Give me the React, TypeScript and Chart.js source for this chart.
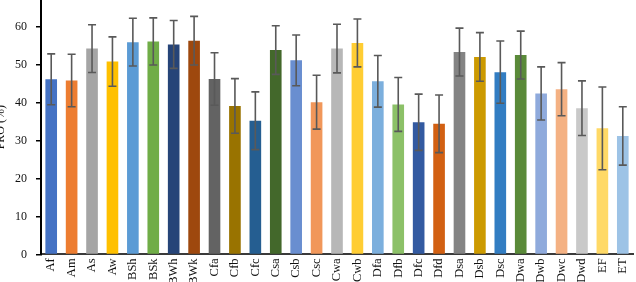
import React, { useEffect, useRef } from "react";
import { Chart, registerables } from "chart.js";

Chart.register(...registerables);

// Köppen climate classes
const classes = [
  "Af", "Am", "As", "Aw", "BSh", "BSk", "BWh", "BWk", "Cfa", "Cfb",
  "Cfc", "Csa", "Csb", "Csc", "Cwa", "Cwb", "Dfa", "Dfb", "Dfc", "Dfd",
  "Dsa", "Dsb", "Dsc", "Dwa", "Dwb", "Dwc", "Dwd", "EF", "ET",
];

// Mean PRO (%) per class
const proMean = [
  46.1, 45.8, 54.2, 50.8, 55.9, 56.1, 55.3, 56.3, 46.2, 39.1,
  35.2, 53.8, 51.1, 40.1, 54.2, 55.7, 45.6, 39.5, 34.8, 34.4,
  53.3, 52.0, 48.0, 52.5, 42.4, 43.5, 38.5, 33.2, 31.2,
];

// Standard deviation (error bar half-length)
const proStd = [
  6.7, 6.9, 6.3, 6.5, 6.3, 6.2, 6.3, 6.4, 6.9, 7.2,
  7.6, 6.4, 6.7, 7.1, 6.4, 6.3, 6.8, 7.1, 7.4, 7.6,
  6.3, 6.4, 8.2, 6.3, 7.0, 7.0, 7.2, 10.9, 7.7,
];

const barColors = [
  "#4472C4", "#ED7D31", "#A5A5A5", "#FFC000", "#5B9BD5", "#70AD47", "#264478", "#9E480E", "#636363", "#997300",
  "#255E91", "#43682B", "#698ED0", "#F1975A", "#B7B7B7", "#FFCD33", "#7CAFDD", "#8CC168", "#335AA1", "#D26012",
  "#848484", "#CC9A00", "#327DC2", "#5A8A39", "#8FAADC", "#F4B183", "#C9C9C9", "#FFD966", "#9DC3E6",
];

const yTicks = [0, 10, 20, 30, 40, 50, 60];
const yMax = 67;

const serif = "'Liberation Serif', 'Times New Roman', serif";

// Draws ±std whiskers with caps on top of each bar
const errorBarPlugin = {
  id: "errorBars",
  afterDatasetsDraw(chart: any) {
    const meta = chart.getDatasetMeta(0);
    const y = chart.scales.y;
    const ctx = chart.ctx;
    ctx.save();
    ctx.strokeStyle = "#595959";
    ctx.lineWidth = 1.6;
    meta.data.forEach((bar: any, i: number) => {
      const x = bar.x;
      const top = y.getPixelForValue(proMean[i] + proStd[i]);
      const bot = y.getPixelForValue(proMean[i] - proStd[i]);
      const cap = 4;
      ctx.beginPath();
      ctx.moveTo(x, top);
      ctx.lineTo(x, bot);
      ctx.moveTo(x - cap, top);
      ctx.lineTo(x + cap, top);
      ctx.moveTo(x - cap, bot);
      ctx.lineTo(x + cap, bot);
      ctx.stroke();
    });
    ctx.restore();
  },
};

export default function App() {
  const canvasRef = useRef<HTMLCanvasElement | null>(null);

  useEffect(() => {
    if (!canvasRef.current) return;
    const chart = new Chart(canvasRef.current, {
      type: "bar",
      data: {
        labels: classes,
        datasets: [
          {
            data: proMean,
            backgroundColor: barColors,
            borderWidth: 0,
            barPercentage: 0.57,
            categoryPercentage: 1,
          },
        ],
      },
      options: {
        animation: false,
        responsive: false,
        maintainAspectRatio: false,
        layout: {
          autoPadding: false,
          padding: { top: 0, right: 3, bottom: 0, left: 0 },
        },
        plugins: {
          legend: { display: false },
          tooltip: { enabled: false },
        },
        scales: {
          x: {
            grid: { display: false, drawTicks: false },
            border: { display: true, color: "#3a3a3a", width: 2 },
            ticks: {
              autoSkip: false,
              minRotation: 90,
              maxRotation: 90,
              padding: 4,
              color: "#111",
              font: { family: serif, size: 12.5 },
            },
            afterFit(scale: any) {
              scale.height = 27.6;
              scale.paddingLeft = 0;
              scale.paddingRight = 0;
            },
          },
          y: {
            min: 0,
            max: yMax,
            grid: {
              display: true,
              drawOnChartArea: false,
              drawTicks: true,
              tickLength: 5,
              color: "#000",
              lineWidth: 1.5,
            },
            border: { display: true, color: "#000", width: 2 },
            ticks: {
              stepSize: 10,
              padding: 9,
              color: "#111",
              font: { family: serif, size: 12 },
            },
            afterBuildTicks(scale: any) {
              scale.ticks = yTicks.map((v) => ({ value: v }));
            },
            afterFit(scale: any) {
              scale.width = 41;
              scale.paddingTop = 0;
              scale.paddingBottom = 0;
            },
            title: {
              display: true,
              text: "PRO (%)",
              color: "#111",
              padding: { top: -6, bottom: 0 },
              font: { family: serif, size: 12 },
            },
          },
        },
      },
      plugins: [errorBarPlugin],
    });
    return () => chart.destroy();
  }, []);

  return (
    <div style={{ position: "absolute", left: 0, top: 0, width: 636, height: 282, background: "#fff" }}>
      <canvas ref={canvasRef} width={636} height={282} style={{ display: "block" }} />
    </div>
  );
}
